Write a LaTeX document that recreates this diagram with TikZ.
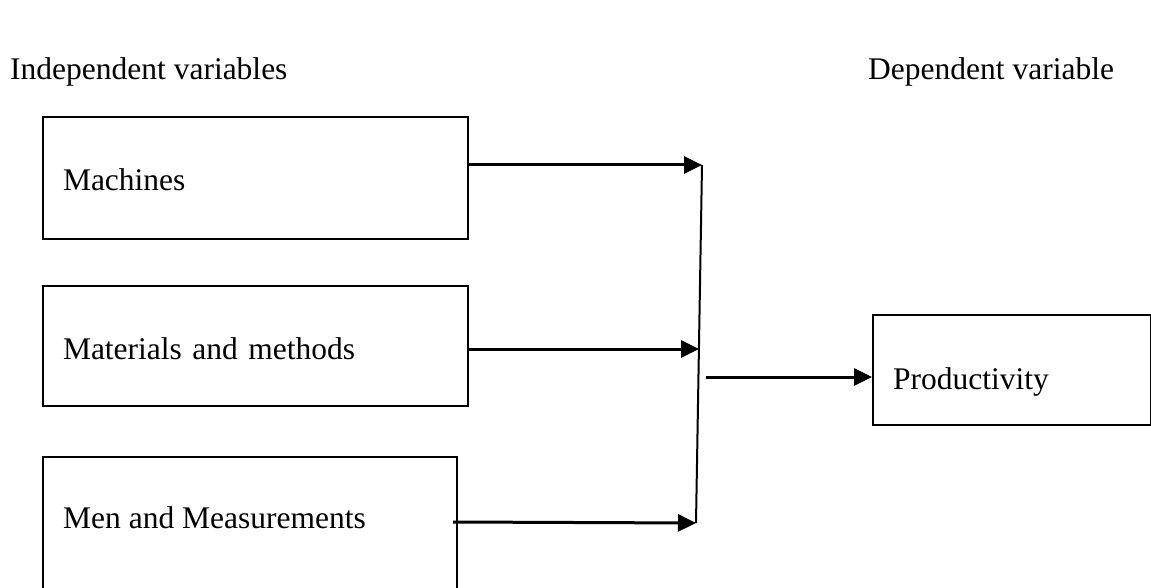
\documentclass[tikz,border=0pt]{standalone}
\usepackage{fontspec}
\setmainfont{Liberation Serif}
\usetikzlibrary{arrows.meta}
\begin{document}
\begin{tikzpicture}[x=1pt,y=-1pt,
  txt/.style={font=\fontsize{31.5}{36}\selectfont, inner sep=0pt},
  varbox/.style={draw, line width=2pt, inner xsep=20pt, inner ysep=0pt, align=left,
     font=\fontsize{31.5}{36}\selectfont, anchor=north west, text depth=0pt, text height=26pt},
  conn/.style={line width=3pt, -{Triangle[length=18pt,width=17pt]}},
  bus/.style={line width=2pt}]
\useasboundingbox (0,0) rectangle (1151,588);
\node[txt, anchor=base west] (indep) at (10,80) {Independent variables};
\node[txt, anchor=base west] (dep) at (868,80) {Dependent variable};
\node[varbox, minimum width=425pt, minimum height=122pt, text width=385pt] (mach) at (42,116) {Machines};
\node[varbox, minimum width=425pt, minimum height=120pt, text width=385pt] (mat) at (42,285) {Materials and methods};
\node[draw, line width=2pt, anchor=north west, minimum width=414pt, minimum height=160pt, inner sep=0pt] (men) at (42,456) {};
\node[txt, anchor=base west] (menlabel) at (63,528) {Men and Measurements};
\node[varbox, minimum width=278pt, minimum height=110pt, text width=238pt, text height=38pt] (prod) at (872,314) {Productivity};
\coordinate (vtop) at (702,165);
\coordinate (vbot) at (696,523);
\coordinate (outstart) at (706,377);
\draw[bus] (vtop) -- (vbot);
\draw[conn] (mach.east |- vtop) -- (vtop);
\draw[conn] (mat.east |- 0,349) -- (699,349);
\draw[conn] (453,522) -- (vbot);
\draw[conn] (outstart) -- (prod.west |- outstart);
\end{tikzpicture}
\end{document}
